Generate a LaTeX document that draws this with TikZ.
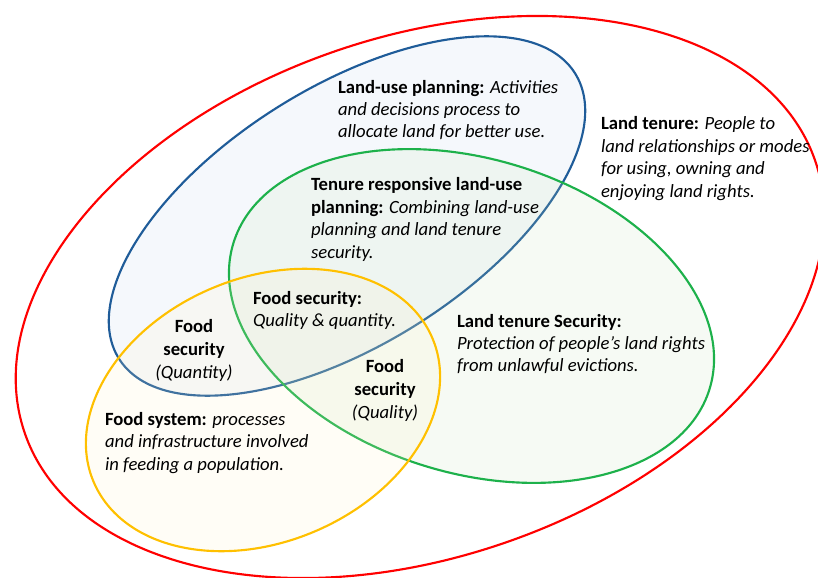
\documentclass[tikz,border=0pt]{standalone}
\usepackage{fontspec}
\setmainfont{Carlito}
\usetikzlibrary{positioning}

\definecolor{tenurered}{HTML}{FF0000}
\definecolor{planblue}{HTML}{1F5C99}
\definecolor{planfill}{HTML}{BED2EB}
\definecolor{securegreen}{HTML}{1DB14B}
\definecolor{securefill}{HTML}{C3DFB3}
\definecolor{foodyellow}{HTML}{FFC000}
\definecolor{foodfill}{HTML}{FFF0C3}

\begin{document}
\begin{tikzpicture}[x=0.75pt, y=-0.75pt, line width=1.6pt,
    txt/.style={align=left, anchor=west, inner sep=0pt, font=\fontsize{14}{16.8}\selectfont},
    ctr/.style={align=center, inner sep=0pt, font=\fontsize{14}{17.5}\selectfont}]
		\useasboundingbox (0,0) rectangle (818,578);
		\clip (0,0) rectangle (818,578);

		% sets
		\draw[tenurered, rotate around={19:(420,297)}] (420,297) ellipse [x radius=418, y radius=260];
		\draw[planblue, fill=planfill, fill opacity=0.15, rotate around={32:(347,216)}] (347,216) ellipse [x radius=269, y radius=129];
		\draw[securegreen, fill=securefill, fill opacity=0.15, rotate around={-17:(471.5,316)}] (471.5,316) ellipse [x radius=249, y radius=157];
		\draw[foodyellow, fill=foodfill, fill opacity=0.15, rotate around={23:(263,410)}] (263,410) ellipse [x radius=184, y radius=132];

		% labels
		\node[txt] (landuse) at (337,110) {\textbf{Land-use planning:} \textit{Activities}\\ \textit{and decisions process to}\\ \textit{allocate land for better use.}};
		\node[txt] (tenure) at (600,158.5) {\textbf{Land tenure:} \textit{People to}\\ \textit{land relationships or modes}\\ \textit{for using, owning and}\\ \textit{enjoying land rights.}};
		\node[txt] (responsive) at (310,219.5) {\textbf{Tenure responsive land-use}\\ \textbf{planning:} \textit{Combining land-use}\\ \textit{planning and land tenure}\\ \textit{security.}};
		\node[txt] (qualqty) at (252,310.5) {\textbf{Food security:}\\ \textit{Quality \& quantity.}};
		\node[ctr] (quantity) at (194,350.5) {\textbf{Food}\\ \textbf{security}\\ \textit{(Quantity)}};
		\node[ctr] (quality) at (385,390.5) {\textbf{Food}\\ \textbf{security}\\ \textit{(Quality)}};
		\node[txt] (tenuresec) at (456,344) {\textbf{Land tenure Security:}\\ \textit{Protection of people’s land rights}\\ \textit{from unlawful evictions.}};
		\node[txt] (foodsys) at (104,443) {\textbf{Food system:} \textit{processes}\\ \textit{and infrastructure involved}\\ \textit{in feeding a population.}};
	\end{tikzpicture}
\end{document}
